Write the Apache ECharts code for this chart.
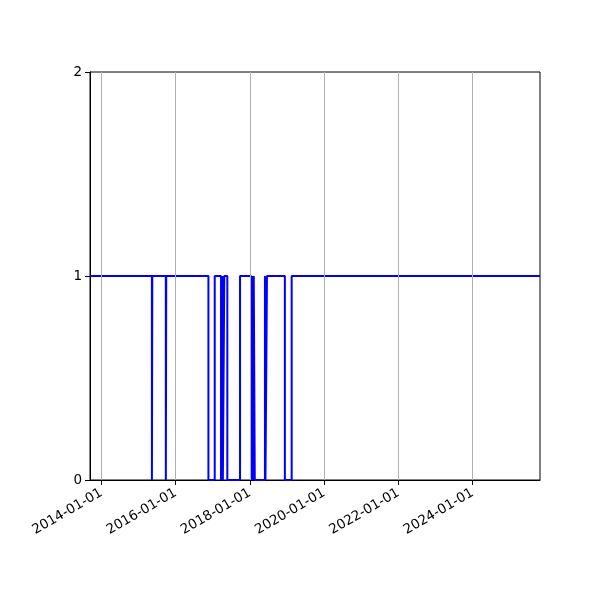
<!DOCTYPE html>
<html>
<head>
<meta charset="utf-8">
<script src="https://cdn.jsdelivr.net/npm/echarts@6/dist/echarts.min.js"></script>
<style>html,body{margin:0;padding:0;background:#fff}#c{width:600px;height:600px}</style>
</head>
<body>
<div id="c"></div>
<script>
// Change points: state holds from each date until the next one
var changeDates = ['2013-09-10','2015-05-12','2015-05-16','2015-09-26','2015-09-30','2016-11-18','2017-01-19','2017-03-22','2017-04-04','2017-04-09','2017-04-23','2017-05-23','2017-09-25','2018-01-12','2018-01-24','2018-02-01','2018-02-07','2018-02-17','2018-05-28','2018-06-02','2018-06-17','2018-12-10','2019-02-15','2025-10-24'];
var states = [1,0,1,0,1,0,1,0,1,0,1,0,1,0,1,0,1,0,1,0,1,0,1,1];
var xTickLabels = ['2014-01-01','2016-01-01','2018-01-01','2020-01-01','2022-01-01','2024-01-01'];
var yTicks = [0,1,2];
var xRange = ['2013-09-10','2025-10-24'];

function ts(s){var p=s.split('-');return Date.UTC(+p[0],+p[1]-1,+p[2]);}
var data = changeDates.map(function(d,i){return [ts(d), states[i]];});
var tickVals = xTickLabels.map(ts);

var chart = echarts.init(document.getElementById('c'));
chart.setOption({
  animation:false,
  grid:{left:90,right:60,top:72,bottom:120,show:true,borderColor:'#000',borderWidth:1,backgroundColor:'transparent'},
  xAxis:{
    type:'value', min:ts(xRange[0]), max:ts(xRange[1]),
    axisLine:{show:true,lineStyle:{color:'#000',width:1}},
    axisTick:{show:true,customValues:tickVals,length:5,lineStyle:{color:'#000',width:1}},
    axisLabel:{customValues:tickVals,rotate:30,color:'#000',fontSize:13.5,fontFamily:'DejaVu Sans',margin:12,
      formatter:function(v){var i=tickVals.indexOf(v);return i>=0?xTickLabels[i]:'';}},
    splitLine:{show:false}
  },
  yAxis:{
    type:'value', min:yTicks[0], max:yTicks[yTicks.length-1], interval:1,
    axisLine:{show:true,lineStyle:{color:'#000',width:1}},
    axisTick:{show:true,length:5,lineStyle:{color:'#000',width:1}},
    axisLabel:{color:'#000',fontSize:13.5,fontFamily:'DejaVu Sans',margin:8},
    splitLine:{show:false}
  },
  series:[{
    type:'line', step:'end', data:data, symbol:'none',
    lineStyle:{color:'#0000ff',width:2},
    markLine:{silent:true,symbol:['none','none'],label:{show:false},
      lineStyle:{color:'#b0b0b0',width:1,type:'solid'},
      data:tickVals.map(function(v){return {xAxis:v};})}
  }]
});
</script>
</body>
</html>
